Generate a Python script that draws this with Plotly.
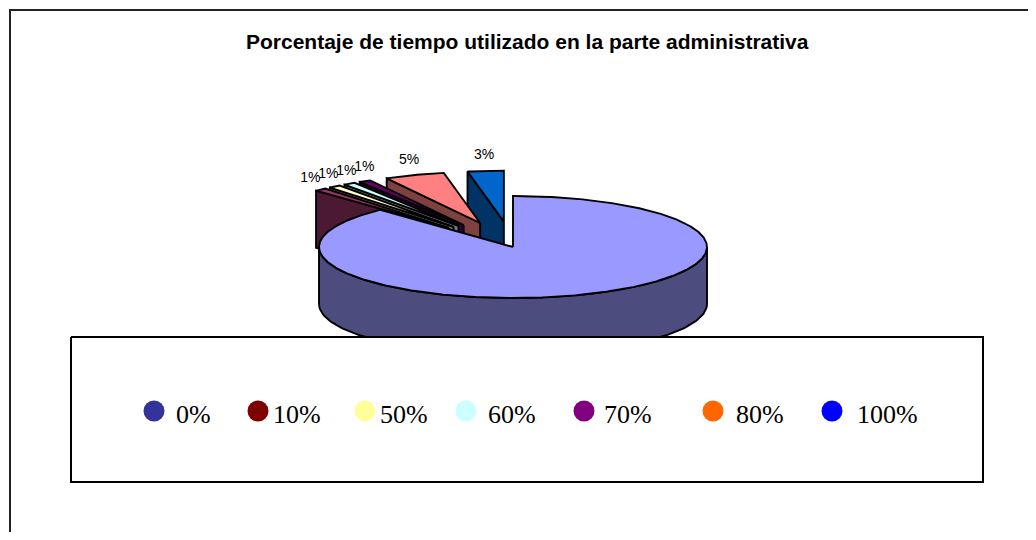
import numpy as np
import plotly.graph_objects as go

# ---------------- data ----------------
categories = ["0%", "10%", "50%", "60%", "70%", "80%", "100%"]
shares = [88, 1, 1, 1, 1, 5, 3]
show_value = [False, True, True, True, True, True, True]
slice_colors = ["#9999FF", "#993366", "#FFFFCC", "#CCFFFF", "#660066", "#FF8080", "#0066CC"]
legend_colors = ["#333399", "#800000", "#FFFF99", "#CCFFFF", "#800080", "#FF6600", "#0000FF"]
explode = [0.0, 0.5, 0.5, 0.5, 0.5, 0.5, 0.5]
title_text = "Porcentaje de tiempo utilizado en la parte administrativa"

# ---------------- layout constants (page pixel space) ----------------
PAGE_W, PAGE_H = 1036, 540
BODY_MARGIN = 8        # default body margin of the written html page
CX, CY = 513, 247      # centre of the top face
RX, RY = 194, 51       # ellipse radii of the top face
DEPTH = 57             # thickness of the pie
LABEL_RX, LABEL_RY = 1.58, 1.8
LABEL_MIN_GAP = 18
LEG_BOX = (71, 337, 983, 482)
LEG_MARKER_X = [154, 258, 365, 466, 584, 713, 832]
LEG_TEXT_X = [174, 271, 378, 486, 602, 734, 855]
LEG_Y = 411


def shade(hex_color, f=0.5):
    h = hex_color.lstrip("#")
    r, g, b = (int(h[i:i + 2], 16) for i in (0, 2, 4))
    return "rgb({},{},{})".format(int(r * f), int(g * f), int(b * f))


def pt(theta, ox=0.0, oy=0.0, r=1.0, dz=0.0):
    t = np.radians(theta)
    return CX + ox + RX * r * np.sin(t), CY + oy - RY * r * np.cos(t) + dz


def poly(xs, ys, fill, name):
    return go.Scatter(x=list(xs) + [xs[0]], y=list(ys) + [ys[0]], mode="lines",
                      fill="toself", fillcolor=fill,
                      line=dict(color="black", width=1.9),
                      hoverinfo="skip", showlegend=False, name=name)


total = float(sum(shares))
starts, ends = [], []
acc = 0.0
for v in shares:
    starts.append(acc / total * 360.0)
    acc += v
    ends.append(acc / total * 360.0)

order = sorted(range(len(shares)),
               key=lambda i: -np.cos(np.radians((starts[i] + ends[i]) / 2)))

traces = []
for i in order:
    a0, a1 = starts[i], ends[i]
    mid = (a0 + a1) / 2
    e = explode[i]
    ox = RX * e * np.sin(np.radians(mid))
    oy = -RY * e * np.cos(np.radians(mid))
    cx0, cy0 = CX + ox, CY + oy
    top = slice_colors[i]
    side = shade(top, 0.5)
    if np.sin(np.radians(a0)) < -1e-9:
        px, py = pt(a0, ox, oy)
        traces.append(poly([cx0, px, px, cx0], [cy0, py, py + DEPTH, cy0 + DEPTH], side, categories[i]))
    if np.sin(np.radians(a1)) > 1e-9:
        px, py = pt(a1, ox, oy)
        traces.append(poly([cx0, px, px, cx0], [cy0, py, py + DEPTH, cy0 + DEPTH], side, categories[i]))
    lo, hi = max(a0, 90.0), min(a1, 270.0)
    if hi > lo:
        th = np.linspace(lo, hi, 120)
        tx, ty = pt(th, ox, oy)
        xs = list(tx) + list(tx[::-1])
        ys = list(ty) + list((ty + DEPTH)[::-1])
        traces.append(poly(xs, ys, side, categories[i]))
    n = max(8, int((a1 - a0) * 2))
    th = np.linspace(a0, a1, n)
    tx, ty = pt(th, ox, oy)
    traces.append(poly([cx0] + list(tx), [cy0] + list(ty), top, categories[i]))

# data labels: placed around the mid angle, then spread to avoid collisions
lab = []
for i in range(len(shares)):
    if show_value[i]:
        mid = (starts[i] + ends[i]) / 2
        t = np.radians(mid)
        lab.append([CX + RX * LABEL_RX * np.sin(t), CY - RY * LABEL_RY * np.cos(t),
                    "{}%".format(shares[i])])
lab.sort(key=lambda r: r[0])
for k in range(1, len(lab)):
    if lab[k][0] - lab[k - 1][0] < LABEL_MIN_GAP:
        lab[k][0] = lab[k - 1][0] + LABEL_MIN_GAP

fig = go.Figure(traces)
fig.add_trace(go.Scatter(x=[r[0] for r in lab], y=[r[1] for r in lab], mode="text",
                         text=[r[2] for r in lab],
                         textfont=dict(family="Liberation Sans, Arial, sans-serif", size=14, color="black"),
                         hoverinfo="skip", showlegend=False))

# legend box (drawn over the pie base)
x0, y0, x1, y1 = LEG_BOX
fig.add_trace(go.Scatter(x=[x0, x1, x1, x0, x0], y=[y0, y0, y1, y1, y0], mode="lines",
                         fill="toself", fillcolor="white",
                         line=dict(color="black", width=2), hoverinfo="skip", showlegend=False))
fig.add_trace(go.Scatter(x=LEG_MARKER_X, y=[LEG_Y] * len(categories), mode="markers",
                         marker=dict(size=21, color=legend_colors, line=dict(width=0)),
                         hoverinfo="skip", showlegend=False))
for tx_, cat in zip(LEG_TEXT_X, categories):
    fig.add_annotation(x=tx_, y=LEG_Y + 3, text=cat, showarrow=False, xanchor="left", yanchor="middle",
                       font=dict(family="Liberation Serif, Times New Roman, serif", size=26, color="black"))

fig.add_annotation(x=527, y=41, text="<b>" + title_text + "</b>", showarrow=False,
                   xanchor="center", yanchor="middle",
                   font=dict(family="Liberation Sans, Arial, sans-serif", size=21, color="black"))

# outer chart border
fig.add_shape(type="rect", x0=10, y0=10, x1=1046, y1=560, line=dict(color="#222222", width=2),
              fillcolor="rgba(0,0,0,0)", layer="above")

# the figure sits inside the page's 8px body margin; map axes to page pixels
fig.update_layout(width=PAGE_W - 2 * BODY_MARGIN, height=PAGE_H - 2 * BODY_MARGIN, autosize=False,
                  margin=dict(l=0, r=0, t=0, b=0),
                  paper_bgcolor="white", plot_bgcolor="white",
                  xaxis=dict(range=[BODY_MARGIN, PAGE_W - BODY_MARGIN], visible=False, fixedrange=True),
                  yaxis=dict(range=[PAGE_H - BODY_MARGIN, BODY_MARGIN], visible=False, fixedrange=True),
                  showlegend=False)

fig.write_html("out.html")
